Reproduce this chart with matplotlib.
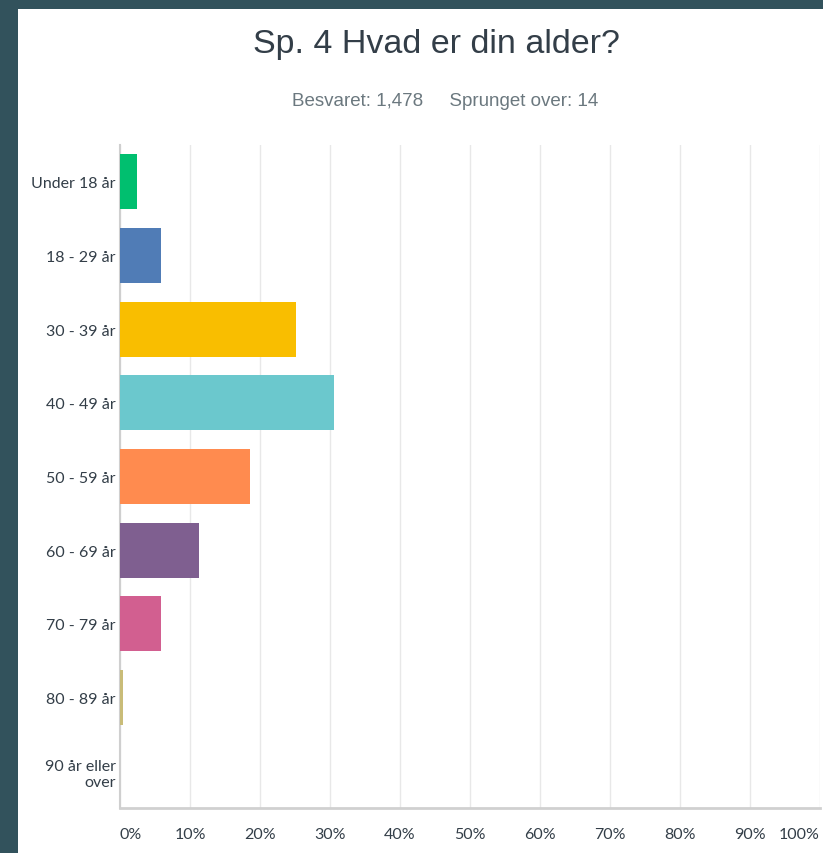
import matplotlib.pyplot as plt
from matplotlib.patches import Rectangle

categories = ["Under 18 år", "18 - 29 år", "30 - 39 år", "40 - 49 år", "50 - 59 år",
              "60 - 69 år", "70 - 79 år", "80 - 89 år", "90 år eller\nover"]
percent = [2.4, 5.8, 25.1, 30.6, 18.6, 11.3, 5.8, 0.4, 0.0]
colors = ["#00bf6f", "#507cb6", "#f9be00", "#6bc8cd", "#ff8b4f",
          "#7f5f90", "#d25f90", "#c9bc78", "#aaaaaa"]
xticks = list(range(0, 101, 10))
xlabels = [f"{t}%" for t in xticks]

title = "Sp. 4 Hvad er din alder?"
subtitle = "Besvaret: 1,478     Sprunget over: 14"

W, H = 823, 854
fig = plt.figure(figsize=(W / 100, H / 100), dpi=100, facecolor="#32525c")
fig.patches.append(Rectangle((18 / W, 0), 1, (H - 10) / H, transform=fig.transFigure,
                             facecolor="white", edgecolor="none", zorder=-10))

ax = fig.add_axes([120 / W, 45 / H, 700 / W, 663 / H])
ax.set_facecolor("white")

y = list(range(len(categories)))
ax.barh(y, percent, height=0.75, color=colors, zorder=3)
ax.set_ylim(len(categories) - 0.5, -0.5)
ax.set_xlim(0, 100)

ax.set_yticks(y)
ax.set_yticklabels(categories, fontsize=11.5, color="#333e48", family="Lato")
ax.tick_params(axis="y", length=0, pad=3)

ax.set_xticks(xticks)
ax.set_xticklabels(xlabels, fontsize=11.5, color="#333e48", family="Lato")
ax.tick_params(axis="x", length=0, pad=14)
labs = ax.get_xticklabels()
labs[0].set_horizontalalignment("left")
labs[-1].set_horizontalalignment("right")

ax.grid(axis="x", color="#e8e8e8", linewidth=1, zorder=0)
ax.set_axisbelow(True)
for s in ["top", "right"]:
    ax.spines[s].set_visible(False)
ax.spines["left"].set_color("#cfcfcf")
ax.spines["left"].set_linewidth(1.5)
ax.spines["bottom"].set_color("#d0d0d0")
ax.spines["bottom"].set_linewidth(2)

fig.text(436 / W, 1 - 45 / H, title, ha="center", va="center", fontsize=24.5,
         color="#333e48", family="Liberation Sans")
fig.text(445 / W, 1 - 101 / H, subtitle, ha="center", va="center", fontsize=13.5,
         color="#6b787f", family="Liberation Sans")

fig.savefig("out.png", dpi=100, facecolor=fig.get_facecolor())
